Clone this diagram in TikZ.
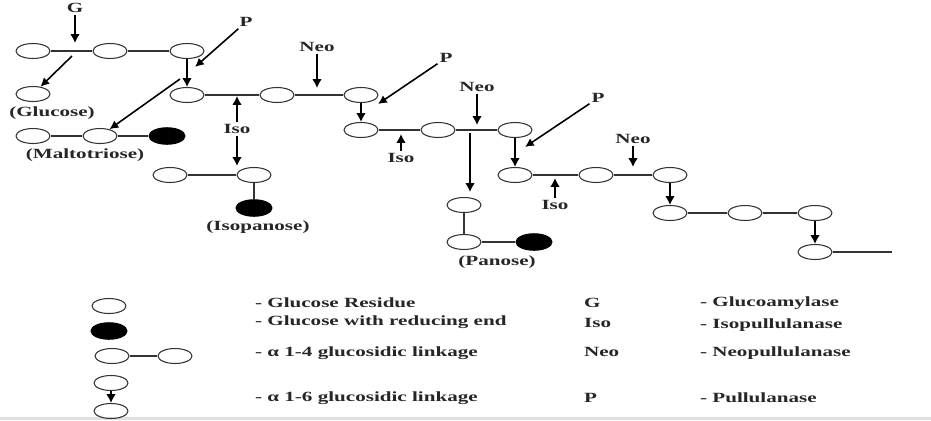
\documentclass[tikz,border=0pt]{standalone}
\usepackage{fontspec}
\setmainfont{Liberation Serif}[FakeStretch=1.5]
\usetikzlibrary{shapes.geometric,arrows.meta}
\begin{document}
\begin{tikzpicture}[x=0.02cm,y=-0.02cm,
    glu/.style={ellipse,draw=black!80,line width=0.6pt,minimum width=0.68cm,minimum height=0.3cm,inner sep=0pt},
    redend/.style={glu,fill=black,draw=black,minimum width=0.72cm,minimum height=0.33cm},
    bond/.style={draw=black!80,line width=0.6pt},
    linkarrow/.style={line width=1.3pt,-{Latex[length=5pt,width=5.5pt]}},
    cut/.style={line width=1.3pt,-{Latex[length=5pt,width=5.5pt]}},
    slant/.style={line width=0.9pt,-{Latex[length=5pt,width=5pt]}},
    lbl/.style={font=\bfseries\fontsize{8}{9}\selectfont,text=black!85,inner sep=1pt}]
  \useasboundingbox (0,0) rectangle (931,420);
  \fill[black!12] (0,417) rectangle (931,420);
  % first chain, glucoamylase
  \node[glu] (a1) at (33,51) {};
  \node[glu] (a2) at (110,51) {};
  \node[glu] (a3) at (187,51) {};
  \draw[bond] (a1) -- (a2) -- (a3);
  \node[lbl] (g) at (75,8) {G};
  \coordinate (gcut) at (75,43);
  \draw[cut] (g) -- (gcut);
  \node[glu] (glc) at (33,94) {};
  \node[lbl] (glclab) at (52,113) {(Glucose)};
  \coordinate (gout) at (72,56);
  \draw[slant] (gout) -- (glc);
  % pullulanase, maltotriose
  \node[lbl] (p1) at (246,22) {P};
  \coordinate (p1cut) at (195,67);
  \draw[slant] (p1) -- (p1cut);
  \node[glu] (b1) at (187,95) {};
  \node[glu] (b2) at (277,95) {};
  \node[glu] (b3) at (361,95) {};
  \draw[linkarrow] (a3) -- (b1);
  \draw[bond] (b1) -- (b2) -- (b3);
  \node[glu] (m1) at (33,136) {};
  \node[glu] (m2) at (100,136) {};
  \node[redend] (m3) at (167,136) {};
  \draw[bond] (m1) -- (m2) -- (m3);
  \node[lbl] (mallab) at (85,155) {(Maltotriose)};
  \coordinate (bout) at (180,79);
  \draw[slant] (bout) -- (m2);
  % isopullulanase, isopanose
  \node[lbl] (iso1) at (237,129) {Iso};
  \coordinate (iso1cut) at (237,96);
  \coordinate (iso1dn) at (237,166);
  \draw[cut] (iso1) -- (iso1cut);
  \draw[cut] (iso1) -- (iso1dn);
  \node[glu] (i1) at (170,175) {};
  \node[glu] (i2) at (254,175) {};
  \node[redend] (i3) at (254,208) {};
  \draw[bond] (i1) -- (i2) -- (i3);
  \node[lbl] (isolab) at (258,227) {(Isopanose)};
  \node[lbl] (neo1) at (317,47) {Neo};
  \coordinate (neo1cut) at (317,88);
  \draw[cut] (neo1) -- (neo1cut);
  % second branch
  \node[lbl] (p2) at (446,58) {P};
  \coordinate (p2cut) at (378,104);
  \draw[slant] (p2) -- (p2cut);
  \node[glu] (c1) at (361,130) {};
  \node[glu] (c2) at (438,130) {};
  \node[glu] (c3) at (515,130) {};
  \draw[linkarrow] (b3) -- (c1);
  \draw[bond] (c1) -- (c2) -- (c3);
  \node[lbl] (iso2) at (401,158) {Iso};
  \coordinate (iso2cut) at (401,134);
  \draw[cut] (iso2) -- (iso2cut);
  \node[lbl] (neo2) at (477,87) {Neo};
  \coordinate (neo2cut) at (477,125);
  \draw[cut] (neo2) -- (neo2cut);
  % panose
  \coordinate (neo2out) at (470,133);
  \coordinate (neo2end) at (470,192);
  \draw[cut] (neo2out) -- (neo2end);
  \node[glu] (pa1) at (464,205) {};
  \node[glu] (pa2) at (464,242) {};
  \node[redend] (pa3) at (534,242) {};
  \draw[bond] (pa1) -- (pa2) -- (pa3);
  \node[lbl] (panlab) at (497,262) {(Panose)};
  % third branch
  \node[lbl] (p3) at (598,98) {P};
  \coordinate (p3cut) at (525,147);
  \draw[slant] (p3) -- (p3cut);
  \node[glu] (d1) at (515,175) {};
  \node[glu] (d2) at (596,175) {};
  \node[glu] (d3) at (670,175) {};
  \draw[linkarrow] (c3) -- (d1);
  \draw[bond] (d1) -- (d2) -- (d3);
  \node[lbl] (iso3) at (555,205) {Iso};
  \coordinate (iso3cut) at (555,178);
  \draw[cut] (iso3) -- (iso3cut);
  \node[lbl] (neo3) at (633,139) {Neo};
  \coordinate (neo3cut) at (633,167);
  \draw[cut] (neo3) -- (neo3cut);
  \node[glu] (e1) at (670,213) {};
  \node[glu] (e2) at (745,213) {};
  \node[glu] (e3) at (815,213) {};
  \draw[linkarrow] (d3) -- (e1);
  \draw[bond] (e1) -- (e2) -- (e3);
  \node[glu] (f1) at (815,252) {};
  \coordinate (tail) at (892,252);
  \draw[linkarrow] (e3) -- (f1);
  \draw[bond] (f1) -- (tail);
  % key
  \node[glu] (key1) at (109,306) {};
  \node[redend] (key2) at (109,331) {};
  \node[glu] (key3a) at (112,356) {};
  \node[glu] (key3b) at (175,356) {};
  \draw[bond] (key3a) -- (key3b);
  \node[glu] (key4a) at (111,383) {};
  \node[glu] (key4b) at (111,411) {};
  \draw[linkarrow,line width=1pt] (key4a) -- (key4b);
  \node[lbl,anchor=west] (txt1) at (253,303) {- Glucose Residue};
  \node[lbl,anchor=west] (txt2) at (253,322) {- Glucose with reducing end};
  \node[lbl,anchor=west] (txt3) at (253,353) {- α 1-4 glucosidic linkage};
  \node[lbl,anchor=west] (txt4) at (253,398) {- α 1-6 glucosidic linkage};
  \node[lbl,anchor=west] (abbg) at (582,303) {G};
  \node[lbl,anchor=west] (abbiso) at (582,323) {Iso};
  \node[lbl,anchor=west] (abbneo) at (582,352) {Neo};
  \node[lbl,anchor=west] (abbp) at (582,398) {P};
  \node[lbl,anchor=west] (namg) at (698,303) {- Glucoamylase};
  \node[lbl,anchor=west] (namiso) at (698,325) {- Isopullulanase};
  \node[lbl,anchor=west] (namneo) at (698,353) {- Neopullulanase};
  \node[lbl,anchor=west] (namp) at (698,398) {- Pullulanase};
\end{tikzpicture}
\end{document}
